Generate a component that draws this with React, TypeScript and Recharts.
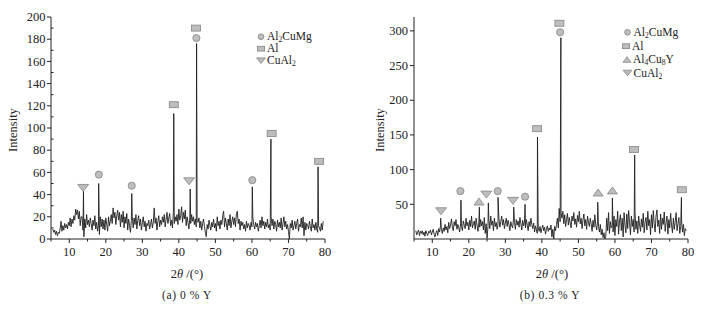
import React from "react";
import { ComposedChart, Line, Scatter, XAxis, YAxis } from "recharts";

// 2θ sampling of the background (deg)
const START = 5.5;
const STEP = 0.25;

// (a) 0 % Y background, 5.5° .. 79.5°
const noiseA = [
  9, 6, 8, 4, 7, 3, 6, 5,
  9, 16, 7, 12, 8, 14, 10, 13,
  9, 15, 12, 19, 11, 18, 14, 21,
  17, 27, 22, 26, 18, 25, 12, 20,
  20, 8, 2, 18, 10, 22, 13, 17,
  11, 19, 14, 8, 17, 12, 21, 9,
  15, 7, 12, 4, 20, 11, 18, 9,
  17, 8, 19, 13, 7, 20, 12, 16,
  22, 14, 28, 19, 24, 13, 21, 26,
  17, 24, 11, 22, 15, 25, 10, 20,
  14, 23, 8, 18, 12, 6, 17, 20,
  10, 19, 13, 22, 9, 17, 21, 12,
  18, 8, 15, 20, 11, 16, 7, 14,
  12, 17, 9, 13, 18, 10, 15, 28,
  14, 19, 8, 16, 21, 11, 17, 13,
  20, 15, 22, 11, 18, 24, 14, 19,
  23, 12, 17, 10, 25, 14, 20, 16,
  22, 13, 27, 17, 21, 29, 15, 24,
  18, 26, 12, 20, 15, 9, 19, 14,
  22, 16, 20, 13, 18, 11, 17, 15,
  19, 10, 16, 8, 14, 18, 11, 6,
  2, 13, 9, 17, 12, 8, 15, 11,
  18, 10, 14, 7, 20, 12, 16, 9,
  17, 13, 21, 25, 11, 19, 14, 8,
  18, 12, 22, 10, 16, 20, 13, 19,
  11, 23, 25, 14, 18, 8, 16, 12,
  15, 9, 13, 7, 16, 10, 14, 12,
  8, 15, 11, 19, 13, 9, 15, 11,
  14, 7, 12, 17, 10, 20, 12, 16,
  9, 15, 11, 18, 10, 13, 8, 20,
  12, 18, 9, 16, 13, 7, 17, 11,
  15, 10, 19, 8, 14, 20, 11, 16,
  9, 13, 7, 0, 14, 10, 17, 8,
  12, 16, 9, 14, 18, 7, 13, 11,
  19, 10, 20, 3, 15, 8, 14, 12,
  9, 16, 11, 7, 18, 10, 13, 8,
  15, 9, 6, 12, 10, 7, 14, 8,
  16,
];
const peaksA = [
  [13.9, 43], [18.05, 50], [27.1, 41], [38.6, 113], [43.1, 45],
  [44.85, 176], [60.1, 47], [65.2, 90], [78.1, 65],
];

// (b) 0.3 % Y background, 5.5° .. 79.5°
const noiseB = [
  12, 6, 10, 13, 5, 11, 8, 12,
  6, 10, 4, 12, 8, 5, 11, 9,
  13, 6, 10, 14, 7, 3, 9, 12,
  5, 15, 10, 19, 14, 8, 16, 11,
  21, 13, 18, 9, 24, 15, 20, 29,
  17, 12, 25, 19, 28, 14, 21, 16,
  10, 22, 18, 12, 26, 20, 15, 30,
  19, 24, 13, 27, 18, 33, 16, 22,
  26, 14, 30, 20, 11, 24, 17, 28,
  19, 25, 13, 31, 8, 22, 1, 18,
  27, 15, 33, 20, 26, 12, 30, 18,
  24, 14, 22, 29, 17, 25, 33, 20,
  28, 15, 23, 30, 18, 27, 21, 12,
  25, 19, 16, 30, 24, 14, 28, 20,
  26, 17, 31, 22, 13, 27, 19, 24,
  16, 28, 20, 12, 25, 18, 30, 21,
  15, 23, 10, 19, 13, 8, 17, 11,
  18, 9, 15, 20, 12, 17, 7, 14,
  19, 11, 16, 13, 20, 3, 14, 0,
  18, 12, 21, 30, 16, 44, 25, 38,
  30, 40, 22, 35, 18, 28, 37, 20,
  31, 24, 16, 33, 26, 38, 21, 29,
  17, 34, 25, 40, 22, 30, 15, 27,
  36, 19, 28, 14, 33, 24, 18, 30,
  22, 11, 27, 17, 35, 20, 13, 25,
  18, 10, 21, 6, 14, 2, 9, 0,
  4, 30, 12, 38, 8, 25, 16, 20,
  10, 33, 5, 28, 18, 40, 7, 26,
  35, 12, 30, 3, 38, 20, 9, 36,
  15, 41, 24, 6, 33, 18, 28, 10,
  38, 14, 26, 8, 33, 20, 11, 29,
  17, 37, 9, 24, 31, 13, 40, 19,
  28, 6, 35, 16, 41, 22, 10, 33,
  42, 18, 27, 8, 36, 14, 30, 21,
  39, 11, 24, 33, 7, 28, 16, 37,
  20, 9, 30, 14, 25, 38, 12, 22,
  31, 8, 18, 27, 10, 21, 5, 15,
  12,
];
const peaksB = [
  [12.3, 30], [17.85, 56], [22.9, 46], [25.35, 52], [28.0, 60], [32.3, 46],
  [35.4, 50], [38.8, 147], [45.2, 290], [55.3, 53], [59.3, 59], [65.4, 121],
  [78.2, 60],
];

// phase markers [2θ, intensity]
const markA_Al2CuMg = [[18.1, 58], [27.1, 48], [44.8, 181], [60.1, 53]];
const markA_Al = [[38.6, 121], [44.7, 190], [65.4, 95], [78.4, 70]];
const markA_CuAl2 = [[13.8, 46], [42.8, 52]];

const markB_Al2CuMg = [[17.7, 69], [27.9, 69], [35.4, 61], [45.0, 298]];
const markB_Al = [[38.7, 159], [44.8, 311], [65.2, 129], [78.3, 71]];
const markB_Al4Cu8Y = [[22.8, 54], [55.4, 67], [59.3, 70]];
const markB_CuAl2 = [[12.4, 40], [24.8, 64], [32.1, 55]];

const xTicks = [5, 10, 15, 20, 25, 30, 35, 40, 45, 50, 55, 60, 65, 70, 75, 80];
const yTicksA = [0, 10, 20, 30, 40, 50, 60, 70, 80, 90, 100, 110, 120, 130, 140, 150, 160, 170, 180, 190, 200];
const yTicksB = [50, 100, 150, 200, 250, 300];

const FONT = '"Liberation Serif", "Times New Roman", serif';
const INK = "#222";
const MFILL = "#bdbdbd";
const MSTROKE = "#858585";

function buildTrace(noise: number[], peaks: number[][]) {
  const pts = noise.map((y, i) => ({ x: START + i * STEP, y }));
  peaks.forEach(([x, y]) => pts.push({ x, y }));
  return pts.sort((a, b) => a.x - b.x);
}
const toPts = (arr: number[][]) => arr.map(([x, y]) => ({ x, y }));

const traceA = buildTrace(noiseA, peaksA);
const traceB = buildTrace(noiseB, peaksB);

type Kind = "circle" | "square" | "up" | "down";

function Mark({ kind, cx, cy, s = 1 }: { kind: Kind; cx: number; cy: number; s?: number }) {
  const common = { fill: MFILL, stroke: MSTROKE, strokeWidth: 0.8 };
  if (kind === "circle") return <circle cx={cx} cy={cy} r={3.6 * s} {...common} />;
  if (kind === "square")
    return <rect x={cx - 4.5 * s} y={cy - 3 * s} width={9 * s} height={6 * s} {...common} />;
  if (kind === "up")
    return (
      <polygon
        points={`${cx - 5 * s},${cy + 3.5 * s} ${cx + 5 * s},${cy + 3.5 * s} ${cx},${cy - 3.5 * s}`}
        {...common}
      />
    );
  return (
    <polygon
      points={`${cx - 5.5 * s},${cy - 3.5 * s} ${cx + 5.5 * s},${cy - 3.5 * s} ${cx},${cy + 3.5 * s}`}
      {...common}
    />
  );
}

const markShape = (kind: Kind) => (p: any) => <Mark kind={kind} cx={p.cx} cy={p.cy} />;

function XTick({ x, y, payload }: any) {
  const major = payload.value % 10 === 0;
  return (
    <g>
      <line x1={x} y1={y} x2={x} y2={y + (major ? 4 : 2.5)} stroke={INK} strokeWidth={1} />
      {major && (
        <text x={x} y={y + 17} textAnchor="middle" fontSize={12.5} fontFamily={FONT} fill={INK}>
          {payload.value}
        </text>
      )}
    </g>
  );
}

function YTickA({ x, y, payload }: any) {
  const major = payload.value % 20 === 0;
  if (!major) return <line x1={x} y1={y} x2={x + 2.5} y2={y} stroke={INK} strokeWidth={1} />;
  return (
    <g>
      <line x1={x - 4} y1={y} x2={x} y2={y} stroke={INK} strokeWidth={1} />
      <text x={x - 5.5} y={y + 4.2} textAnchor="end" fontSize={12.5} fontFamily={FONT} fill={INK}>
        {payload.value}
      </text>
    </g>
  );
}

function YTickB({ x, y, payload }: any) {
  return (
    <g>
      <line x1={x - 4} y1={y} x2={x} y2={y} stroke={INK} strokeWidth={1} />
      <text x={x - 6} y={y + 4.2} textAnchor="end" fontSize={12.5} fontFamily={FONT} fill={INK}>
        {payload.value}
      </text>
    </g>
  );
}

function Panel({
  left,
  yw,
  right,
  trace,
  yDomain,
  yTicks,
  yTick,
  marks,
}: {
  left: number;
  yw: number;
  right: number;
  trace: { x: number; y: number }[];
  yDomain: [number, number];
  yTicks: number[];
  yTick: any;
  marks: [Kind, number[][]][];
}) {
  return (
    <div style={{ position: "absolute", left, top: 0 }}>
      <ComposedChart width={340} height={260} margin={{ top: 17, right, bottom: 0, left: 0 }}>
        <XAxis
          dataKey="x"
          type="number"
          domain={[5, 80]}
          ticks={xTicks}
          interval={0}
          allowDataOverflow
          height={21}
          tickSize={0}
          tickMargin={0}
          tickLine={false}
          stroke={INK}
          tick={<XTick />}
        />
        <YAxis
          type="number"
          domain={yDomain}
          ticks={yTicks}
          interval={0}
          allowDataOverflow
          width={yw}
          tickSize={0}
          tickMargin={0}
          tickLine={false}
          stroke={INK}
          tick={yTick}
        />
        <Line
          data={trace}
          dataKey="y"
          type="linear"
          stroke="#1f1f1f"
          strokeWidth={0.9}
          dot={false}
          activeDot={false}
          isAnimationActive={false}
        />
        {marks.map(([kind, pts], i) => (
          <Scatter
            key={i}
            data={toPts(pts)}
            dataKey="y"
            shape={markShape(kind)}
            isAnimationActive={false}
          />
        ))}
      </ComposedChart>
    </div>
  );
}

function Label({ x, y, children, size = 12.5 }: any) {
  return (
    <text x={x} y={y} textAnchor="middle" fontSize={size} fontFamily={FONT} fill={INK}>
      {children}
    </text>
  );
}

function LegendRow({ kind, x, y, children }: any) {
  return (
    <g>
      <Mark kind={kind} cx={x} cy={y} s={0.8} />
      <text x={x + 6} y={y + 3.5} fontSize={11.5} fontFamily={FONT} fill={INK}>
        {children}
      </text>
    </g>
  );
}

const sub = (t: string) => (
  <tspan fontSize={7.5} dy={2}>
    {t}
  </tspan>
);
const up = (t: string) => <tspan dy={-2}>{t}</tspan>;

export default function App() {
  return (
    <div style={{ position: "absolute", left: 0, top: 0, width: 724, height: 311, background: "#fff" }}>
      <Panel
        left={0}
        yw={51}
        right={15}
        trace={traceA}
        yDomain={[0, 200]}
        yTicks={yTicksA}
        yTick={<YTickA />}
        marks={[
          ["circle", markA_Al2CuMg],
          ["square", markA_Al],
          ["down", markA_CuAl2],
        ]}
      />
      <Panel
        left={362}
        yw={52}
        right={14}
        trace={traceB}
        yDomain={[0, 320]}
        yTicks={yTicksB}
        yTick={<YTickB />}
        marks={[
          ["circle", markB_Al2CuMg],
          ["square", markB_Al],
          ["up", markB_Al4Cu8Y],
          ["down", markB_CuAl2],
        ]}
      />
      <svg width={724} height={311} style={{ position: "absolute", left: 0, top: 0, pointerEvents: "none" }}>
        <text transform="translate(16.5,130) rotate(-90)" textAnchor="middle" fontSize={12.5} fontFamily={FONT} fill={INK}>
          Intensity
        </text>
        <text transform="translate(384,130) rotate(-90)" textAnchor="middle" fontSize={12.5} fontFamily={FONT} fill={INK}>
          Intensity
        </text>

        <Label x={187} y={278}>
          2<tspan fontStyle="italic">θ</tspan> /(°)
        </Label>
        <Label x={552} y={278}>
          2<tspan fontStyle="italic">θ</tspan> /(°)
        </Label>
        <text x={187} y={299} textAnchor="middle" fontSize={11.5} fontFamily={FONT} fill={INK} letterSpacing={0.6}>
          (a) 0 % Y
        </text>
        <text x={550} y={299} textAnchor="middle" fontSize={11.5} fontFamily={FONT} fill={INK} letterSpacing={0.6}>
          (b) 0.3 % Y
        </text>

        <LegendRow kind="circle" x={261} y={36.7}>
          Al{sub("2")}{up("CuMg")}
        </LegendRow>
        <LegendRow kind="square" x={261} y={48.7}>
          Al
        </LegendRow>
        <LegendRow kind="down" x={261} y={60.7}>
          CuAl{sub("2")}
        </LegendRow>

        <LegendRow kind="circle" x={627.5} y={32.3}>
          Al{sub("2")}{up("CuMg")}
        </LegendRow>
        <LegendRow kind="square" x={626} y={46.2}>
          Al
        </LegendRow>
        <LegendRow kind="up" x={627} y={59.5}>
          Al{sub("4")}{up("Cu")}{sub("8")}{up("Y")}
        </LegendRow>
        <LegendRow kind="down" x={627.5} y={73}>
          CuAl{sub("2")}
        </LegendRow>
      </svg>
    </div>
  );
}
